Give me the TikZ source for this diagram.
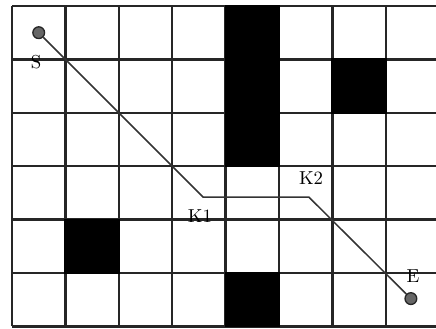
\documentclass[tikz,border=0pt]{standalone}
\usepackage{tikz}
\usetikzlibrary{positioning}

\begin{document}
\begin{tikzpicture}[
  x=1cm, y=-1cm,
  gridline/.style={line width=1.3pt, black!85},
  wall/.style={fill=black},
  route/.style={line width=0.8pt, black!80},
  endpoint/.style={circle, draw=black!85, fill=black!60, line width=0.7pt,
    minimum size=0.22cm, inner sep=0pt},
  lbl/.style={font=\normalsize, inner sep=1pt},
]
  % Frame of the picture
  \clip (-0.225,-0.112) rectangle (7.94,6.037);
  \useasboundingbox (-0.225,-0.112) rectangle (7.94,6.037);

  % Grid
  \draw[gridline] (0,0) grid (9,6);

  % Blocked cells
  \foreach \c/\r/\h in {4/0/3, 6/1/1, 1/4/1, 4/5/1}
    \fill[wall] ([shift={(-0.02,-0.02)}]\c,\r) rectangle ++(1.04,\h+0.04);

  % Route
  \node[endpoint] (S) at (0.5,0.5) {};
  \node[endpoint] (E) at (7.47,5.48) {};
  \coordinate (K1) at (3.58,3.58);
  \coordinate (K2) at (5.56,3.58);
  \draw[route] (S) -- (K1) -- (K2) -- (E);

  % Labels
  \node[lbl] (Slabel) at (0.45,1.05) {S};
  \node[lbl] (K1label) at (3.52,3.93) {K1};
  \node[lbl] (K2label) at (5.6,3.23) {K2};
  \node[lbl] (Elabel) at (7.51,5.05) {E};
\end{tikzpicture}
\end{document}
